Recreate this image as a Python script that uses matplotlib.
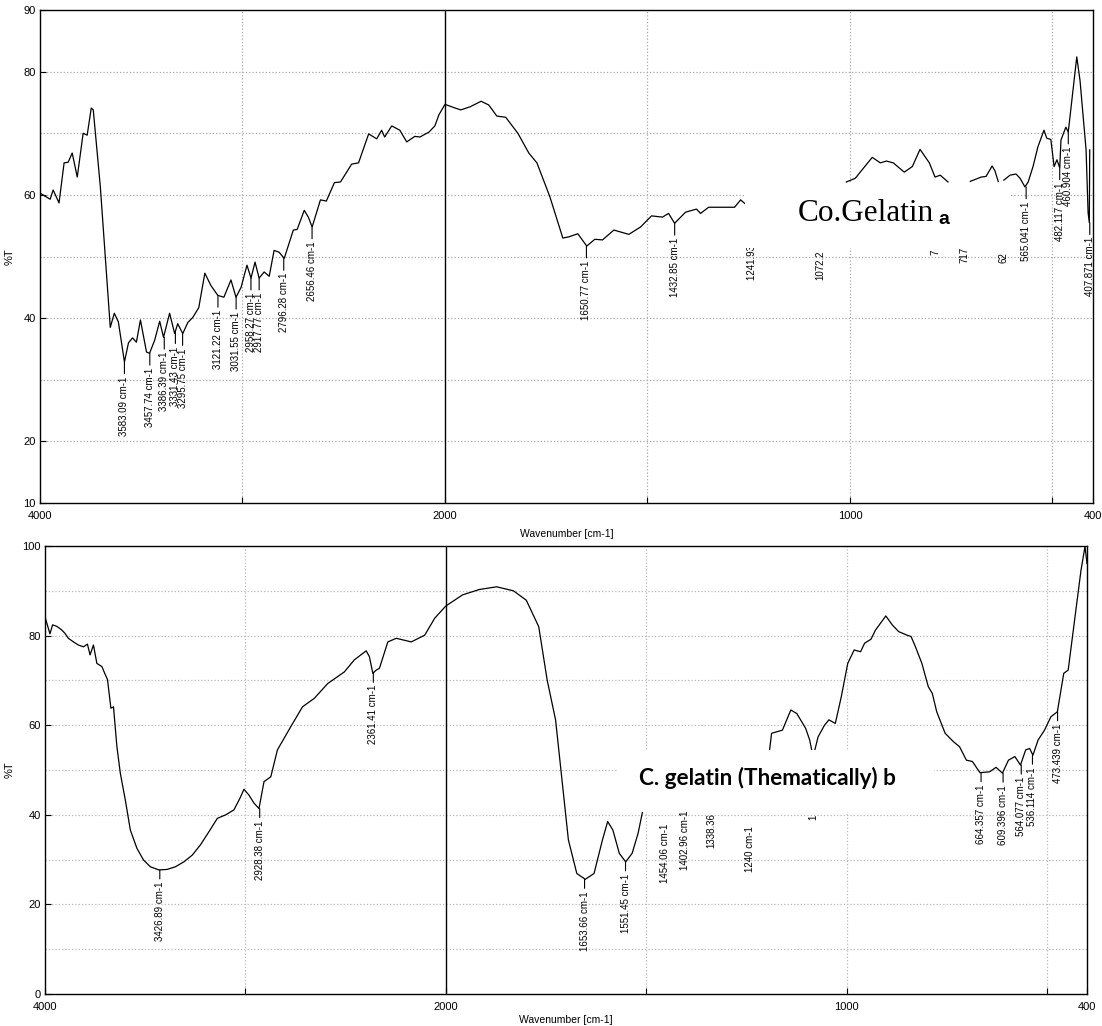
import numpy as np
import matplotlib
matplotlib.use('Agg')
import matplotlib.pyplot as plt
from matplotlib.patches import Rectangle

plt.rcParams['font.family'] = ['Liberation Sans', 'DejaVu Sans']

# ---- spectrum a : Co.Gelatin (nan = part hidden under the caption box)
a_wn = [4000, 3950, 3935, 3906, 3881, 3861, 3841, 3816, 3787, 3767, 3747, 3737,
        3702, 3653, 3633, 3613, 3583, 3563, 3543, 3524, 3504, 3474, 3459, 3434,
        3409, 3390, 3360, 3335, 3320, 3295, 3270, 3246, 3216, 3186, 3156, 3122,
        3092, 3057, 3032, 3007, 2978, 2958, 2938, 2918, 2893, 2868, 2844, 2819,
        2794, 2749, 2730, 2695, 2675, 2656, 2615, 2586, 2546, 2516, 2461, 2427,
        2377, 2337, 2313, 2298, 2263, 2223, 2189, 2149, 2124, 2079, 2050, 2030,
        2000, 1975, 1961, 1938, 1911, 1892, 1872, 1850, 1820, 1793, 1773, 1741,
        1709, 1694, 1672, 1650, 1630, 1611, 1583, 1546, 1517, 1490, 1463, 1448,
        1433, 1406, 1379, 1369, 1349, 1307, 1285, 1270, 1256, 1150,
        1009, 987, 945, 925, 910, 893, 866, 846, 827, 804, 790, 777, 758, 730,
        703, 676, 664, 649, 642, 634, 627,
        620, 605, 590, 580, 568, 560, 548, 536, 521, 514, 504, 496, 489, 482,
        479, 467, 461, 440, 432, 417, 412, 409, 408]
a_t = [60.3, 59.3, 60.8, 58.7, 65.2, 65.3, 66.8, 62.9, 70.0, 69.7, 74.1, 73.8,
       61.3, 38.5, 40.8, 39.4, 32.9, 36.0, 36.8, 36.1, 39.7, 34.5, 34.3, 36.4,
       39.5, 36.9, 40.8, 37.5, 39.1, 37.5, 39.3, 40.1, 41.7, 47.3, 45.3, 43.7,
       43.4, 46.2, 43.4, 45.0, 48.6, 46.5, 49.1, 46.5, 47.5, 46.8, 51.0, 50.7,
       49.7, 54.3, 54.4, 57.5, 56.4, 54.8, 59.2, 59.0, 62.0, 62.1, 65.0, 65.2,
       69.9, 69.1, 70.5, 69.4, 71.2, 70.5, 68.6, 69.5, 69.4, 70.2, 71.2, 73.0,
       74.7, 74.1, 73.8, 74.3, 75.2, 74.6, 72.8, 72.6, 70.0, 66.8, 65.2, 59.7,
       53.0, 53.2, 53.7, 51.7, 52.8, 52.7, 54.3, 53.6, 54.8, 56.6, 56.4, 57.0,
       55.4, 57.2, 57.7, 57.0, 58.0, 58.0, 58.0, 59.2, 58.4, np.nan,
       62.1, 62.7, 66.1, 65.2, 65.5, 65.2, 63.7, 64.6, 67.4, 65.2, 62.9, 63.2, 62.1, np.nan,
       62.2, 62.9, 63.0, 64.7, 63.9, 62.2, np.nan,
       62.4, 63.2, 63.4, 62.7, 61.3, 62.1, 64.6, 67.8, 70.5, 69.2, 69.0, 64.6, 65.7, 64.4,
       68.9, 71.0, 70.2, 82.4, 78.6, 67.3, 57.1, 55.5, 67.3]

a_peak_wn = [3583.09, 3457.74, 3386.39, 3331.43, 3295.75, 3121.22, 3031.55, 2958.27,
             2917.77, 2796.28, 2656.46, 1650.77, 1432.85, 565.041, 482.117, 460.904, 407.871]
a_peak_t = [32.9, 34.3, 36.9, 37.8, 37.5, 43.7, 43.4, 46.5,
            46.5, 49.7, 54.8, 51.7, 55.4, 61.3, 64.4, 70.2, 55.5]
a_peak_labels = ['3583.09 cm-1', '3457.74 cm-1', '3386.39 cm-1', '3331.43 cm-1', '3295.75 cm-1',
                 '3121.22 cm-1', '3031.55 cm-1', '2958.27 cm-1', '2917.77 cm-1', '2796.28 cm-1',
                 '2656.46 cm-1', '1650.77 cm-1', '1432.85 cm-1', '565.041 cm-1', '482.117 cm-1',
                 '460.904 cm-1', '407.871 cm-1']
# labels whose top is hidden by the caption box: position of their lower end
a_cut_wn = [1241.93, 1072.2, 790, 717, 620]
a_cut_bottom = [46.2, 46.2, 50.2, 48.9, 48.9]
a_cut_labels = ['1241.93 cm-1', '1072.2', '7', '717', '62']

# ---- spectrum b : C. gelatin (Thematically)
b_wn = [4000, 3975, 3962, 3942, 3917, 3900, 3883, 3858, 3833, 3808, 3788, 3775,
        3758, 3741, 3716, 3700, 3688, 3671, 3658, 3641, 3624, 3599, 3574, 3541,
        3508, 3474, 3432, 3391, 3349, 3307, 3265, 3224, 3182, 3140, 3098, 3057,
        3027, 3007, 2982, 2957, 2932, 2907, 2873, 2840, 2773, 2715, 2656, 2589,
        2506, 2456, 2397, 2381, 2364, 2347, 2331, 2289, 2247, 2172, 2105, 2055,
        2000, 1958, 1916, 1873, 1831, 1799, 1768, 1747, 1726, 1710, 1694, 1673,
        1652, 1630, 1609, 1596, 1583, 1567, 1551, 1535, 1520, 1509, 1350,
        1192, 1187, 1171, 1160, 1139, 1124, 1102, 1092, 1087, 1083,
        1079, 1071, 1055, 1044, 1028, 1013, 997, 981, 965, 955, 939, 928, 902,
        886, 870, 849, 839, 828, 812, 796, 786, 775, 754, 733, 718, 701, 686,
        667, 643, 627, 611, 596, 580, 566, 553, 543, 535, 522, 506, 490, 474,
        458, 447, 431, 415, 405, 400]
b_t = [84.2, 80.4, 82.4, 82.1, 81.3, 80.5, 79.4, 78.6, 77.9, 77.5, 78.1, 75.7,
       77.9, 73.8, 73.1, 71.4, 70.2, 63.8, 64.1, 55.2, 49.3, 43.3, 36.6, 32.5,
       29.9, 28.4, 27.7, 27.8, 28.4, 29.5, 31.0, 33.3, 36.2, 39.2, 40.0, 41.1,
       43.7, 45.7, 44.4, 42.6, 41.4, 47.4, 48.5, 54.5, 59.7, 64.1, 66.0, 69.3,
       71.9, 74.6, 76.6, 75.3, 71.6, 72.3, 72.7, 78.6, 79.4, 78.6, 80.1, 83.9,
       86.6, 89.1, 90.3, 90.9, 90.0, 87.9, 82.0, 70.1, 61.2, 47.8, 34.4, 26.9,
       25.6, 26.9, 34.4, 38.5, 36.6, 31.4, 29.5, 31.4, 35.9, 40.7, np.nan,
       54.5, 58.2, 58.6, 58.9, 63.4, 62.6, 59.3, 56.7, 54.5, np.nan,
       54.5, 57.4, 60.0, 61.2, 60.4, 66.4, 73.8, 76.8, 76.4, 78.3, 79.2, 81.2, 84.4,
       82.4, 80.9, 80.1, 79.8, 77.5, 73.8, 68.6, 67.1, 63.0, 58.2, 56.3, 55.2, 52.2, 51.9,
       49.4, 49.6, 50.6, 49.3, 52.2, 53.0, 51.1, 54.5, 54.8, 53.3, 56.7, 58.9, 61.9, 63.0,
       71.6, 72.3, 83.5, 94.6, 99.9, 96.1]

b_peak_wn = [3426.89, 2928.38, 2361.41, 1653.66, 1551.45, 664.357, 609.396, 564.077,
             536.114, 473.439]
b_peak_t = [27.7, 41.4, 71.6, 25.6, 29.5, 49.4, 49.3, 51.1, 53.3, 63.0]
b_peak_labels = ['3426.89 cm-1', '2928.38 cm-1', '2361.41 cm-1', '1653.66 cm-1',
                 '1551.45 cm-1', '664.357 cm-1', '609.396 cm-1', '564.077 cm-1',
                 '536.114 cm-1', '473.439 cm-1']
b_cut_wn = [1454.06, 1404, 1338.36, 1240, 1082]
b_cut_bottom = [24.8, 27.7, 32.6, 27.2, 38.8]
b_cut_labels = ['1454.06 cm-1', '1402.96 cm-1', '1338.36', '1240 cm-1', '1']

x_ticks = [4000, 3000, 2000, 1500, 1000, 500, 400]
x_tick_labels = ['4000', '', '2000', '', '1000', '', '400']


# the spectrometer plots 4000-2000 at half the scale of 2000-400
def fwd(w):
    w = np.asarray(w, dtype=float)
    return np.where(w >= 2000, w, 2 * w - 2000)


def inv(u):
    u = np.asarray(u, dtype=float)
    return np.where(u >= 2000, u, (u + 2000) / 2)


def setup(ax, ylim, yticks, grid_col):
    ax.set_xscale('function', functions=(fwd, inv))
    ax.set_xlim(4000, 400)
    ax.set_ylim(*ylim)
    ax.set_xticks(x_ticks)
    ax.set_xticklabels(x_tick_labels)
    ax.set_yticks(yticks)
    ax.minorticks_off()
    for t in range(ylim[0] + 10, ylim[1], 10):
        ax.axhline(t, color=grid_col, ls=':', lw=0.9, zorder=0)
    for v in (3000, 1500, 1000, 500):
        ax.axvline(v, color=grid_col, ls=':', lw=0.9, zorder=0)
    ax.axvline(2000, color='k', lw=1.0, zorder=1)
    ax.tick_params(direction='in', length=4, labelsize=8, pad=3)
    ax.tick_params(axis='x', pad=6)
    for s in ax.spines.values():
        s.set_linewidth(1.0)
    ax.set_ylabel('%T', fontsize=8)
    ax.set_xlabel('Wavenumber [cm-1]', fontsize=7.5)


def peaks(ax, wn, tv, labels, off):
    for w, t, lab in zip(wn, tv, labels):
        ax.annotate(lab, xy=(w, t), xytext=(0, -off), textcoords='offset points',
                    rotation=90, ha='center', va='top', fontsize=7, zorder=3,
                    arrowprops=dict(arrowstyle='-', color='k', lw=0.8,
                                    shrinkA=0, shrinkB=0))


def cut_labels(ax, wn, bottoms, labels):
    for w, b, lab in zip(wn, bottoms, labels):
        ax.text(w, b, lab, rotation=90, ha='center', va='bottom', fontsize=7, zorder=3)


fig = plt.figure(figsize=(11.02, 10.26), dpi=100)
ax1 = fig.add_axes([0.0363, 0.5097, 0.9555, 0.4805])
ax2 = fig.add_axes([0.0408, 0.0312, 0.9456, 0.4366])

# ---- panel a
setup(ax1, (10, 90), [10, 20, 40, 60, 80, 90], '#a8a8a8')
ax1.plot(a_wn, a_t, color='k', lw=0.9, zorder=2)
peaks(ax1, a_peak_wn, a_peak_t, a_peak_labels, 10.5)
cut_labels(ax1, a_cut_wn, a_cut_bottom, a_cut_labels)
ax1.add_patch(Rectangle((1258, 51.4), 605 - 1258, 61.9 - 51.4,
                        facecolor='white', edgecolor='none', zorder=4))
title_a = ax1.text(1128, 55.8, 'Co.Gelatin', family=['Liberation Serif'], fontsize=22.5,
                   va='baseline', ha='left', zorder=5)
ax1.annotate('a', xy=(1, 0), xycoords=title_a, xytext=(3, 0), textcoords='offset points',
             family=['Liberation Sans'], fontweight='bold', fontsize=14,
             va='bottom', ha='left', zorder=5)
ax1.yaxis.set_label_coords(-0.024, 0.5)
ax1.xaxis.set_label_coords(0.5, -0.052)

# ---- panel b
setup(ax2, (0, 100), [0, 20, 40, 60, 80, 100], '#b8b8b8')
ax2.plot(b_wn, b_t, color='k', lw=0.9, zorder=2)
peaks(ax2, b_peak_wn, b_peak_t, b_peak_labels, 8.5)
cut_labels(ax2, b_cut_wn, b_cut_bottom, b_cut_labels)
ax2.add_patch(Rectangle((1570, 40.6), 781 - 1570, 54.5 - 40.6,
                        facecolor='white', edgecolor='none', zorder=4))
ax2.text(1518, 46.6, 'C. gelatin (Thematically) b', family=['Lato', 'DejaVu Sans'],
         fontweight='bold', fontsize=16.2, va='baseline', ha='left', zorder=5)
ax2.yaxis.set_label_coords(-0.029, 0.5)
ax2.xaxis.set_label_coords(0.5, -0.047)

fig.savefig('out.png', dpi=100)
